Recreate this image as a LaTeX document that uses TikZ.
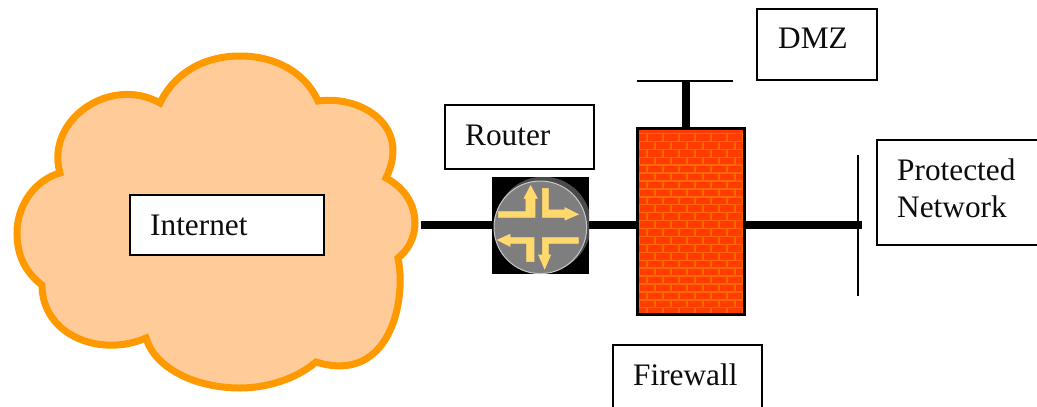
\documentclass[tikz,border=0pt]{standalone}
\usepackage{fontspec}
\setmainfont{Liberation Serif}
\definecolor{cloudfill}{HTML}{FFCC99}
\definecolor{cloudline}{HTML}{FF9900}
\definecolor{brick}{HTML}{FF3C00}
\definecolor{mortar}{HTML}{FF6600}
\definecolor{disc}{HTML}{7E7E7E}
\definecolor{discback}{HTML}{4A4A4A}
\definecolor{discrim}{HTML}{C8C8C8}
\definecolor{arrowy}{HTML}{FFD96E}
\tikzset{
  labelbox/.style={draw=black,line width=1.5pt,fill=white,inner sep=0pt,anchor=north west},
  labeltext/.style={font=\fontsize{31.3}{37}\selectfont,inner sep=0pt,anchor=base west,align=left,text=black!95},
  thickwire/.style={line width=8pt,black},
  thinwire/.style={line width=1.5pt,black},
  routerarrow/.style={fill=arrowy,draw=arrowy,line width=0.6pt,line join=miter}
}
\begin{document}
\begin{tikzpicture}[x=1pt,y=-1pt]
\useasboundingbox (0,0) rectangle (1037,407);
\begin{scope}
\clip (0,0) rectangle (1037,407);
% cloud
\draw[line width=7pt,draw=cloudline,fill=cloudfill,line join=miter]
 (160,103) .. controls (175,72) and (205,56) .. (240,56)
 .. controls (275,56) and (305,72) .. (318,101)
 .. controls (360,95) and (412,125) .. (386,178)
 .. controls (405,188) and (415,205) .. (415,223)
 .. controls (415,238) and (408,250) .. (398,258)
 .. controls (407,300) and (390,385) .. (316,362)
 .. controls (295,380) and (265,388) .. (240,388)
 .. controls (195,388) and (155,368) .. (146,338)
 .. controls (100,358) and (42,335) .. (42,285)
 .. controls (25,272) and (17,255) .. (17,233)
 .. controls (17,205) and (35,180) .. (60,173)
 .. controls (45,120) and (110,75) .. (160,103) -- cycle;
% firewall
\coordinate (fwW) at (637,225);
\coordinate (fwE) at (744,225);
\coordinate (fwN) at (686,128);
\begin{scope}
\clip (637,128) rectangle (744,314);
\fill[brick] (637,128) rectangle (744,314);
\foreach \r in {0,...,23} {
  \pgfmathsetmacro{\yy}{133.5+\r*7.92}
  \draw[mortar,line width=1.4pt] (637,\yy) -- (744,\yy);
  \pgfmathsetmacro{\off}{mod(\r,2)==0 ? 631 : 623}
  \foreach \c in {0,...,8} {
    \pgfmathsetmacro{\xx}{\off+\c*16}
    \draw[mortar,line width=1.4pt] (\xx,\yy) -- (\xx,\yy+7.92);
  }
}
\end{scope}
\draw[black,line width=3pt] (637,128.5) rectangle (744,314);
% wires
\coordinate (netW) at (421,225);
\coordinate (dmzStem) at (686,81);
\coordinate (dmzL) at (637,81);
\coordinate (dmzR) at (733,81);
\coordinate (netBarT) at (858,155);
\coordinate (netBarB) at (858,296);
\coordinate (netBarM) at (862,225);
\draw[thickwire] (netW) -- (493,225);
\draw[thickwire] (589,225) -- (fwW);
\draw[thickwire] (fwE) -- (netBarM);
\draw[thickwire] (fwN) -- (dmzStem);
\draw[thinwire] (dmzL) -- (dmzR);
\draw[thinwire] (netBarT) -- (netBarB);
% router
\fill[black] (492,177) rectangle (589,274);
\begin{scope}
\clip (492,177) rectangle (589,274);
\begin{scope}[shift={(480,165)},x=0.3333pt,y=-0.3333pt]
\fill[discback] (190,178) circle[radius=143];
\fill[disc,draw=discrim,line width=1pt] (181,187) circle[radius=139];
\fill[routerarrow] (55,140) -- (138,140) -- (138,100) -- (132,100) -- (152,62) -- (172,100) -- (165,100) -- (165,157) -- (55,157) -- cycle;
\fill[routerarrow] (187,70) -- (205,70) -- (205,135) -- (255,135) -- (255,128) -- (295,148) -- (255,165) -- (255,157) -- (187,157) -- cycle;
\fill[routerarrow] (52,225) -- (90,208) -- (90,218) -- (162,218) -- (162,290) -- (140,290) -- (140,235) -- (90,235) -- (90,244) -- cycle;
\fill[routerarrow] (295,218) -- (187,218) -- (187,270) -- (176,270) -- (194,312) -- (212,270) -- (205,270) -- (205,235) -- (295,235) -- cycle;
\end{scope}
\end{scope}
% boxes and labels
\node[labelbox,minimum width=194pt,minimum height=60pt] (internetbox) at (129.3,194.3) {};
\node[labeltext] (internet) at (150,235) {Internet};
\node[labelbox,minimum width=149pt,minimum height=64pt] (routerbox) at (444.3,104.3) {};
\node[labeltext] (router) at (465,145) {Router};
\node[labelbox,minimum width=120pt,minimum height=71pt] (dmzbox) at (756.3,8.3) {};
\node[labeltext] (dmz) at (778,48) {DMZ};
\node[labelbox,minimum width=170pt,minimum height=105pt] (netbox) at (876.3,139.3) {};
\node[labeltext] (net1) at (897,180) {Protected};
\node[labeltext] (net2) at (897,217) {Network};
\node[labelbox,minimum width=149pt,minimum height=70pt] (fwbox) at (612.3,344.3) {};
\node[labeltext] (fw) at (633,385) {Firewall};
\end{scope}
\end{tikzpicture}
\end{document}
